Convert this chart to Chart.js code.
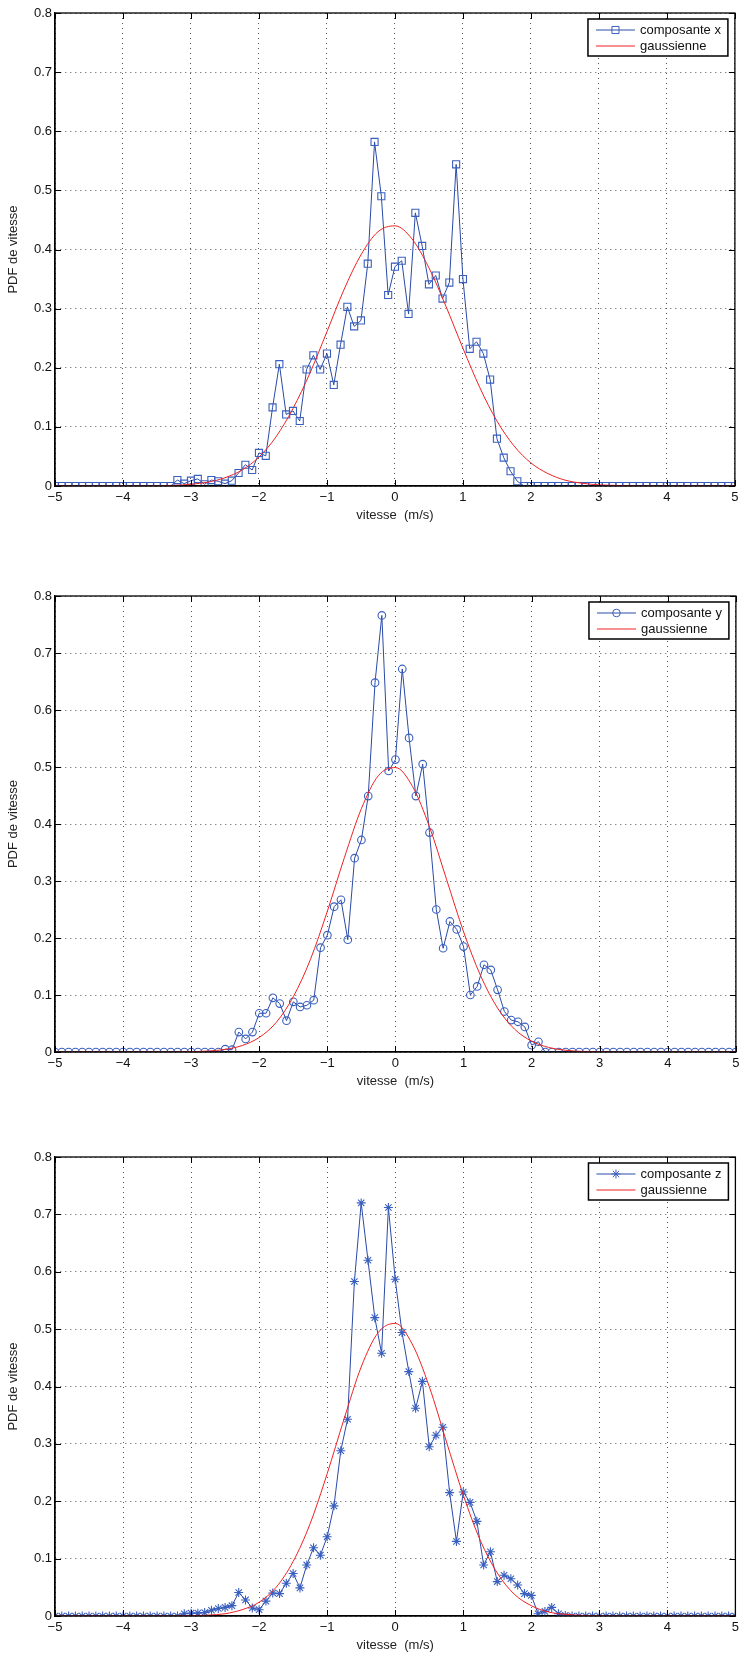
<!DOCTYPE html>
<html>
<head>
<meta charset="utf-8">
<script src="https://cdn.jsdelivr.net/npm/chart.js@4.4.1/dist/chart.umd.min.js"></script>
<style>
  html, body { margin: 0; padding: 0; background: #fff; }
  body { width: 741px; height: 1654px; position: relative; overflow: hidden; }
  canvas { position: absolute; left: 0; }
</style>
</head>
<body>
<canvas id="chartX" width="741" height="540" style="top:0px"></canvas>
<canvas id="chartY" width="741" height="520" style="top:583px"></canvas>
<canvas id="chartZ" width="741" height="510" style="top:1144px"></canvas>
<script>
// vitesse (m/s), pas de 0.1
const vitesse = [
  -5.0, -4.9, -4.8, -4.7, -4.6, -4.5, -4.4, -4.3, -4.2, -4.1,
  -4.0, -3.9, -3.8, -3.7, -3.6, -3.5, -3.4, -3.3, -3.2, -3.1,
  -3.0, -2.9, -2.8, -2.7, -2.6, -2.5, -2.4, -2.3, -2.2, -2.1,
  -2.0, -1.9, -1.8, -1.7, -1.6, -1.5, -1.4, -1.3, -1.2, -1.1,
  -1.0, -0.9, -0.8, -0.7, -0.6, -0.5, -0.4, -0.3, -0.2, -0.1,
  0.0, 0.1, 0.2, 0.3, 0.4, 0.5, 0.6, 0.7, 0.8, 0.9,
  1.0, 1.1, 1.2, 1.3, 1.4, 1.5, 1.6, 1.7, 1.8, 1.9,
  2.0, 2.1, 2.2, 2.3, 2.4, 2.5, 2.6, 2.7, 2.8, 2.9,
  3.0, 3.1, 3.2, 3.3, 3.4, 3.5, 3.6, 3.7, 3.8, 3.9,
  4.0, 4.1, 4.2, 4.3, 4.4, 4.5, 4.6, 4.7, 4.8, 4.9,
  5.0
];

const pdfX = [
  0, 0, 0, 0, 0, 0, 0, 0, 0, 0,
  0, 0, 0, 0, 0, 0, 0, 0, 0.010, 0.004,
  0.009, 0.012, 0.003, 0.010, 0.008, 0.004, 0.009, 0.022, 0.036, 0.027,
  0.056, 0.051, 0.133, 0.206, 0.121, 0.127, 0.110, 0.197, 0.221, 0.197,
  0.224, 0.171, 0.239, 0.303, 0.270, 0.280, 0.376, 0.582, 0.490, 0.323,
  0.371, 0.381, 0.291, 0.462, 0.406, 0.341, 0.356, 0.317, 0.344, 0.544,
  0.350, 0.232, 0.244, 0.224, 0.180, 0.080, 0.048, 0.025, 0.008, 0,
  0, 0, 0, 0, 0, 0, 0, 0, 0, 0,
  0, 0, 0, 0, 0, 0, 0, 0, 0, 0,
  0, 0, 0, 0, 0, 0, 0, 0, 0, 0,
  0
];

const pdfY = [
  0, 0, 0, 0, 0, 0, 0, 0, 0, 0,
  0, 0, 0, 0, 0, 0, 0, 0, 0, 0,
  0, 0, 0, 0, 0, 0.005, 0.004, 0.035, 0.023, 0.035,
  0.068, 0.068, 0.095, 0.085, 0.055, 0.088, 0.079, 0.082, 0.091, 0.183,
  0.205, 0.255, 0.267, 0.197, 0.340, 0.372, 0.449, 0.648, 0.766, 0.493,
  0.513, 0.672, 0.551, 0.449, 0.505, 0.385, 0.250, 0.182, 0.229, 0.215,
  0.185, 0.100, 0.115, 0.153, 0.144, 0.109, 0.071, 0.056, 0.053, 0.044,
  0.012, 0.018, 0, 0, 0, 0, 0, 0, 0, 0,
  0, 0, 0, 0, 0, 0, 0, 0, 0, 0,
  0, 0, 0, 0, 0, 0, 0, 0, 0, 0,
  0
];

const pdfZ = [
  0, 0, 0, 0, 0, 0, 0, 0, 0, 0,
  0, 0, 0, 0, 0, 0, 0, 0, 0, 0.004,
  0.005, 0.005, 0.006, 0.010, 0.013, 0.015, 0.018, 0.041, 0.028, 0.014,
  0.011, 0.026, 0.040, 0.039, 0.057, 0.074, 0.049, 0.089, 0.119, 0.106,
  0.138, 0.192, 0.288, 0.343, 0.583, 0.720, 0.620, 0.520, 0.458, 0.712,
  0.587, 0.494, 0.426, 0.362, 0.409, 0.295, 0.315, 0.329, 0.215, 0.130,
  0.216, 0.198, 0.165, 0.089, 0.112, 0.060, 0.071, 0.065, 0.054, 0.039,
  0.036, 0.004, 0.008, 0.015, 0.004, 0.001, 0, 0, 0, 0,
  0, 0, 0, 0, 0, 0, 0, 0, 0, 0,
  0, 0, 0, 0, 0, 0, 0, 0, 0, 0,
  0
];

// courbes gaussiennes lues sur la figure, pas de 0.25
const vitesseGauss = [
  -5.0, -4.75, -4.5, -4.25, -4.0, -3.75, -3.5, -3.25, -3.0, -2.75,
  -2.5, -2.25, -2.0, -1.75, -1.5, -1.25, -1.0, -0.75, -0.5, -0.25,
  0.0, 0.25, 0.5, 0.75, 1.0, 1.25, 1.5, 1.75, 2.0, 2.25,
  2.5, 2.75, 3.0, 3.25, 3.5, 3.75, 4.0, 4.25, 4.5, 4.75,
  5.0
];

const gaussX = [
  0, 0, 0, 0, 0, 0, 0, 0.001, 0.003, 0.0065,
  0.014, 0.027, 0.049, 0.083, 0.131, 0.191, 0.261, 0.332, 0.391, 0.430,
  0.440, 0.418, 0.369, 0.304, 0.233, 0.166, 0.110, 0.068, 0.039, 0.021,
  0.010, 0.0047, 0.002, 0.001, 0, 0, 0, 0, 0, 0,
  0
];

const gaussY = [
  0, 0, 0, 0, 0, 0, 0, 0, 0.0006, 0.0017,
  0.0046, 0.0114, 0.0256, 0.052, 0.097, 0.162, 0.247, 0.341, 0.427, 0.485,
  0.499, 0.466, 0.395, 0.303, 0.211, 0.134, 0.077, 0.040, 0.019, 0.008,
  0.003, 0.001, 0.0004, 0, 0, 0, 0, 0, 0, 0,
  0
];

const gaussZ = [
  0, 0, 0, 0, 0, 0, 0, 0, 0.0005, 0.0015,
  0.004, 0.011, 0.024, 0.050, 0.095, 0.161, 0.248, 0.344, 0.434, 0.494,
  0.510, 0.474, 0.400, 0.305, 0.211, 0.132, 0.075, 0.038, 0.018, 0.007,
  0.003, 0.001, 0.0003, 0, 0, 0, 0, 0, 0, 0,
  0
];

const xTickLabels = ['\u22125', '\u22124', '\u22123', '\u22122', '\u22121', '0', '1', '2', '3', '4', '5'];
const yTickLabels = ['0', '0.1', '0.2', '0.3', '0.4', '0.5', '0.6', '0.7', '0.8'];

const BLUE = '#2a4aa8';
const BLUE_MK = '#3a60bf';
const RED = '#ee2222';
const FONT = '"Liberation Sans", Arial, Helvetica, sans-serif';

Chart.defaults.font.family = FONT;
Chart.defaults.font.size = 13;
Chart.defaults.color = '#111';

function drawMarker(ctx, style, r, cx, cy) {
    ctx.beginPath();
    if (style === 'rect') {
        const s = r * Math.SQRT1_2;
        ctx.rect(cx - s, cy - s, 2 * s, 2 * s);
    } else if (style === 'circle') {
        ctx.arc(cx, cy, r, 0, Math.PI * 2);
    } else if (style === 'star') {
        const d = r * Math.SQRT1_2;
        ctx.moveTo(cx - r, cy); ctx.lineTo(cx + r, cy);
        ctx.moveTo(cx, cy - r); ctx.lineTo(cx, cy + r);
        ctx.moveTo(cx - d, cy - d); ctx.lineTo(cx + d, cy + d);
        ctx.moveTo(cx - d, cy + d); ctx.lineTo(cx + d, cy - d);
    }
    ctx.stroke();
}

// cadre, graduations interieures et legende facon matlab
const matlabFrame = {
    id: 'matlabFrame',
    afterDraw(chart) {
        const { ctx, chartArea: a, scales } = chart;
        ctx.save();
        ctx.strokeStyle = '#000';
        ctx.lineWidth = 1;
        ctx.beginPath();
        scales.x.ticks.forEach(t => {
            const px = Math.round(scales.x.getPixelForValue(t.value)) + 0.5;
            ctx.moveTo(px, a.bottom); ctx.lineTo(px, a.bottom - 6);
            ctx.moveTo(px, a.top); ctx.lineTo(px, a.top + 6);
        });
        scales.y.ticks.forEach(t => {
            const py = Math.round(scales.y.getPixelForValue(t.value)) + 0.5;
            ctx.moveTo(a.left, py); ctx.lineTo(a.left + 6, py);
            ctx.moveTo(a.right, py); ctx.lineTo(a.right - 6, py);
        });
        ctx.stroke();
        ctx.lineWidth = 1.3;
        ctx.strokeRect(a.left, a.top, a.right - a.left, a.bottom - a.top);

        // legende
        ctx.font = '13px ' + FONT;
        const sets = chart.data.datasets;
        const tw = Math.max(...sets.map(d => ctx.measureText(d.label).width));
        const w = 52 + tw + 7;
        const h = 37;
        const lx = a.right - 7 - w;
        const ly = a.top + 6;
        ctx.fillStyle = '#fff';
        ctx.fillRect(lx, ly, w, h);
        ctx.lineWidth = 1.5;
        ctx.strokeStyle = '#000';
        ctx.strokeRect(lx, ly, w, h);
        sets.forEach((d, i) => {
            const yy = ly + 11 + 16 * i;
            ctx.strokeStyle = d.borderColor;
            ctx.lineWidth = 1;
            ctx.beginPath();
            ctx.moveTo(lx + 8, yy); ctx.lineTo(lx + 47, yy);
            ctx.stroke();
            if (d.pointRadius > 0) {
                ctx.strokeStyle = d.pointBorderColor;
                drawMarker(ctx, d.pointStyle, d.pointRadius, lx + 27.5, yy);
            }
            ctx.fillStyle = '#111';
            ctx.textBaseline = 'middle';
            ctx.textAlign = 'left';
            ctx.fillText(d.label, lx + 52, yy);
        });
        ctx.restore();
    }
};

function makeChart(id, plotHeight, label, values, gauss, marker, radius) {
    const canvas = document.getElementById(id);
    const bottomPad = canvas.height - 13 - plotHeight - 38;
    return new Chart(canvas.getContext('2d'), {
        type: 'line',
        data: {
            datasets: [{
                label: label,
                data: vitesse.map((v, i) => ({ x: v, y: values[i] })),
                borderColor: BLUE,
                borderWidth: 1,
                pointStyle: marker,
                pointRadius: radius,
                pointBorderColor: BLUE_MK,
                pointBackgroundColor: 'rgba(0,0,0,0)',
                pointBorderWidth: 1.1,
                tension: 0,
                order: 1
            }, {
                label: 'gaussienne',
                data: vitesseGauss.map((v, i) => ({ x: v, y: gauss[i] })),
                borderColor: RED,
                borderWidth: 1,
                pointRadius: 0,
                cubicInterpolationMode: 'monotone',
                order: 0
            }]
        },
        options: {
            responsive: false,
            animation: false,
            devicePixelRatio: 1,
            layout: { padding: { top: 13, left: 0, right: 2, bottom: bottomPad } },
            plugins: { legend: { display: false }, tooltip: { enabled: false } },
            scales: {
                x: {
                    type: 'linear',
                    min: -5,
                    max: 5,
                    ticks: {
                        stepSize: 1,
                        padding: 4,
                        color: '#111',
                        callback: (v, i) => xTickLabels[i]
                    },
                    grid: { color: '#555', lineWidth: 1, drawTicks: false },
                    border: { color: '#000', width: 1.3, dash: [1, 4] },
                    title: { display: true, text: 'vitesse  (m/s)', color: '#222', padding: { top: 0, bottom: 1 } },
                    afterFit: s => { s.height = 38; s.paddingLeft = 0; s.paddingRight = 0; }
                },
                y: {
                    min: 0,
                    max: 0.8,
                    ticks: {
                        stepSize: 0.1,
                        padding: 3,
                        color: '#111',
                        callback: (v, i) => yTickLabels[i]
                    },
                    grid: { color: '#555', lineWidth: 1, drawTicks: false },
                    border: { color: '#000', width: 1.3, dash: [1, 4] },
                    title: { display: true, text: 'PDF de vitesse', color: '#222', padding: { top: 6, bottom: 0 } },
                    afterFit: s => { s.width = 55; s.paddingTop = 0; s.paddingBottom = 0; }
                }
            }
        },
        plugins: [matlabFrame]
    });
}

makeChart('chartX', 473, 'composante x', pdfX, gaussX, 'rect', 5);
makeChart('chartY', 456, 'composante y', pdfY, gaussY, 'circle', 3.8);
makeChart('chartZ', 459, 'composante z', pdfZ, gaussZ, 'star', 4.5);
</script>
</body>
</html>
